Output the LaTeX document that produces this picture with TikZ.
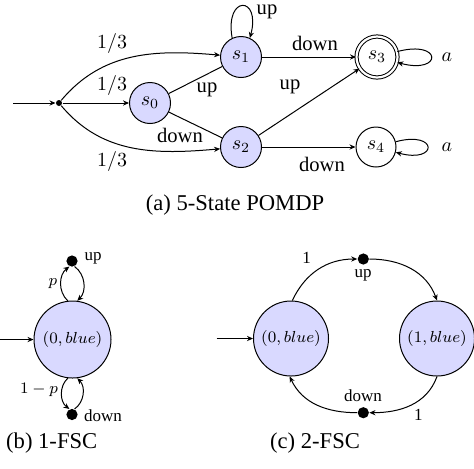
\documentclass[tikz,border=0pt]{standalone}
\usepackage{fontspec}
\setmainfont{Liberation Serif}
\usetikzlibrary{arrows.meta}
\begin{document}
\begin{tikzpicture}[x=0.5pt,y=0.5pt,line width=0.5pt,
  tip/.style={-{Stealth[length=3pt,width=2.6pt]}},
  state/.style={circle,draw,fill=blue!15,minimum size=20.5pt,inner sep=0pt,font=\fontsize{10.3}{12}\selectfont},
  plainstate/.style={circle,draw,minimum size=20pt,inner sep=0pt,font=\fontsize{10.3}{12}\selectfont},
  accstate/.style={circle,draw,double,double distance=1.1pt,minimum size=20.5pt,inner sep=0pt,font=\fontsize{10.3}{12}\selectfont},
  bigstate/.style={circle,draw,fill=blue!15,minimum size=38.5pt,inner sep=0pt,font=\fontsize{8.5}{10}\selectfont},
  lbl/.style={font=\fontsize{10.3}{12}\selectfont,inner sep=0pt},
  slbl/.style={font=\fontsize{8.5}{10}\selectfont,inner sep=0pt},
  captext/.style={font=\fontsize{11.3}{13}\selectfont,inner sep=0pt},
  smalldot/.style={circle,fill,inner sep=0pt,minimum size=3pt},
  bigdot/.style={circle,fill,inner sep=0pt,minimum size=5.6pt}]
\useasboundingbox (0,0) rectangle (474,-468);

% ---------- (a) 5-state POMDP ----------
\coordinate (init) at (13,-103);
\node[smalldot] (i0) at (59,-103) {};
\node[state] (s0) at (150,-103) {$s_0$};
\node[state] (s1) at (241,-57) {$s_1$};
\node[state] (s2) at (241,-147) {$s_2$};
\node[accstate] (s3) at (377,-57) {$s_3$};
\node[plainstate] (s4) at (376,-147) {$s_4$};

\draw[tip] (init) -- (i0);
\draw[tip] (i0) to[out=50,in=175] (s1);
\draw[tip] (i0) -- (s0);
\draw[tip] (i0) to[out=-50,in=185] (s2);
\draw (s0) -- (s1);
\draw (s0) -- (s2);
\draw[tip] (s1) -- (s3);
\draw[tip] (s2) -- (s3);
\draw[tip] (s2) -- (s4);
\draw[tip] (s1.115) .. controls +(100:44) and +(75:44) .. (s1.65);
\draw[tip] (s3.15) .. controls +(15:47) and +(-15:47) .. (s3.-15);
\draw[tip] (s4.15) .. controls +(15:44) and +(-15:44) .. (s4.-15);

\node[lbl] (l13a) at (112,-43) {$1/3$};
\node[lbl] (l13b) at (112,-85) {$1/3$};
\node[lbl] (l13c) at (112,-161) {$1/3$};
\node[lbl] (ldown1) at (315,-43) {down};
\node[lbl] (lup1) at (207,-90) {up};
\node[lbl] (lup2) at (290,-87) {up};
\node[lbl] (ldown2) at (180,-135) {down};
\node[lbl] (ldown3) at (322,-164) {down};
\node[lbl] (lup3) at (267,-11.5) {up};
\node[lbl] (la1) at (447,-57) {$a$};
\node[lbl] (la2) at (447,-147) {$a$};

\node[captext] (capa) at (235,-205) {(a) 5-State POMDP};

% ---------- (b) 1-FSC ----------
\coordinate (init1) at (0,-339.5);
\node[bigstate] (c1) at (72.5,-339.5) {$(0,blue)$};
\node[bigdot] (u1) at (72,-261) {};
\node[bigdot] (d1) at (72,-414.5) {};
\draw[tip] (init1) -- (c1);
\draw[tip] (c1.97) to[bend left=50] (u1.-115);
\draw[tip] (u1.-65) to[bend left=50] (c1.83);
\draw[tip] (c1.-97) to[bend right=50] (d1.115);
\draw[tip] (d1.65) to[bend right=50] (c1.-83);
\node[slbl] (lp) at (53,-284) {$p$};
\node[slbl] (l1p) at (39,-390) {$1-p$};
\node[slbl] (lup4) at (93,-258) {up};
\node[slbl] (ldown4) at (103,-416) {down};
\node[captext] (capb) at (51.7,-443) {(b) 1-FSC};

% ---------- (c) 2-FSC ----------
\coordinate (init2) at (216.7,-338.5);
\node[bigstate,minimum size=37.5pt] (c20) at (291,-338.5) {$(0,blue)$};
\node[bigstate,minimum size=37.5pt] (c21) at (437,-338.5) {$(1,blue)$};
\node[bigdot] (u2) at (363.3,-259) {};
\node[bigdot] (d2) at (363.3,-412.7) {};
\draw[tip] (init2) -- (c20);
\draw[tip] (c20.88) to[out=65,in=180] (u2);
\draw[tip] (u2) to[out=0,in=110] (c21.90);
\draw[tip] (c21.-90) to[out=-110,in=0] (d2);
\draw[tip] (d2) to[out=180,in=-65] (c20.-92);
\node[slbl] (lone1) at (306.7,-258.3) {1};
\node[slbl] (lup5) at (363,-275) {up};
\node[slbl] (ldown5) at (363,-396) {down};
\node[slbl] (lone2) at (418.3,-415) {1};
\node[captext] (capc) at (315,-443) {(c) 2-FSC};
\end{tikzpicture}
\end{document}
